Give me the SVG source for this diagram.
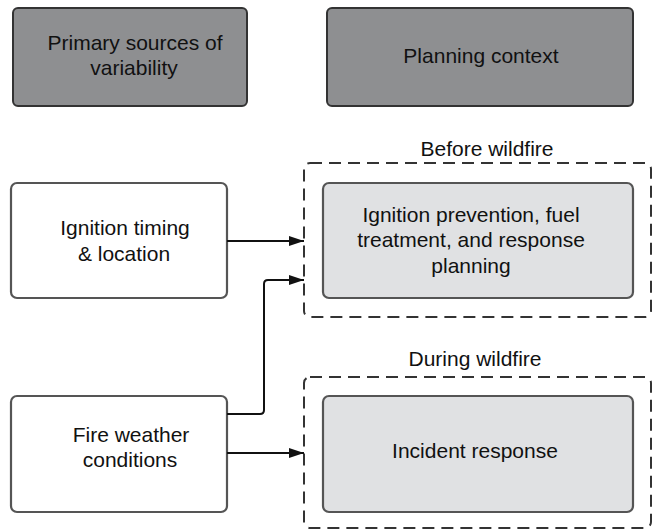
<svg xmlns="http://www.w3.org/2000/svg" width="652" height="531" viewBox="0 0 652 531">
<defs>
<style>
.t{font-family:"Liberation Sans",Arial,Helvetica,sans-serif;font-size:21px;fill:#111;text-anchor:middle}
.hdr{fill:#8e8f91;stroke:#333;stroke-width:2}
.src{fill:#fff;stroke:#555;stroke-width:2.2}
.ctx{fill:#e0e1e3;stroke:#555;stroke-width:2.2}
.grp{fill:none;stroke:#333;stroke-width:2;stroke-dasharray:12 7}
.c{fill:none;stroke:#111;stroke-width:2}
</style>
<marker id="ah" markerUnits="userSpaceOnUse" markerWidth="16" markerHeight="12" refX="15" refY="5" orient="auto">
<path d="M0,0 L15,5 L0,10 z" fill="#111"/>
</marker>
</defs>
<rect width="652" height="531" fill="#fff"/>
<g id="hdr-sources">
<rect class="hdr" x="13" y="8" width="234" height="98" rx="5"/>
<text class="t" x="135" y="50">Primary sources of</text>
<text class="t" x="134" y="75">variability</text>
</g>
<g id="hdr-context">
<rect class="hdr" x="327" y="8" width="306" height="98" rx="5"/>
<text class="t" x="481" y="63">Planning context</text>
</g>
<g id="grp-before">
<rect class="grp" x="304" y="163" width="347" height="154" rx="6"/>
<text class="t" x="487" y="156">Before wildfire</text>
</g>
<g id="grp-during">
<rect class="grp" x="304" y="377" width="347" height="151" rx="6"/>
<text class="t" x="475" y="366">During wildfire</text>
</g>
<g id="ignition">
<rect class="src" x="11" y="183" width="216" height="115" rx="6"/>
<text class="t" x="125" y="235">Ignition timing</text>
<text class="t" x="124" y="261">&amp; location</text>
</g>
<g id="weather">
<rect class="src" x="11" y="396" width="216" height="116" rx="6"/>
<text class="t" x="131" y="442">Fire weather</text>
<text class="t" x="130" y="467">conditions</text>
</g>
<g id="planning">
<rect class="ctx" x="323" y="183" width="310" height="115" rx="6"/>
<text class="t" x="471" y="222">Ignition prevention, fuel</text>
<text class="t" x="471" y="247">treatment, and response</text>
<text class="t" x="471" y="273">planning</text>
</g>
<g id="incident">
<rect class="ctx" x="323" y="396" width="310" height="116" rx="6"/>
<text class="t" x="475" y="458">Incident response</text>
</g>
<g id="connectors">
<path class="c" d="M227,241 H304" marker-end="url(#ah)"/>
<path class="c" d="M227,414 H260 Q264,414 264,410 V284 Q264,280 268,280 H304" marker-end="url(#ah)"/>
<path class="c" d="M227,453 H304" marker-end="url(#ah)"/>
</g>
</svg>
